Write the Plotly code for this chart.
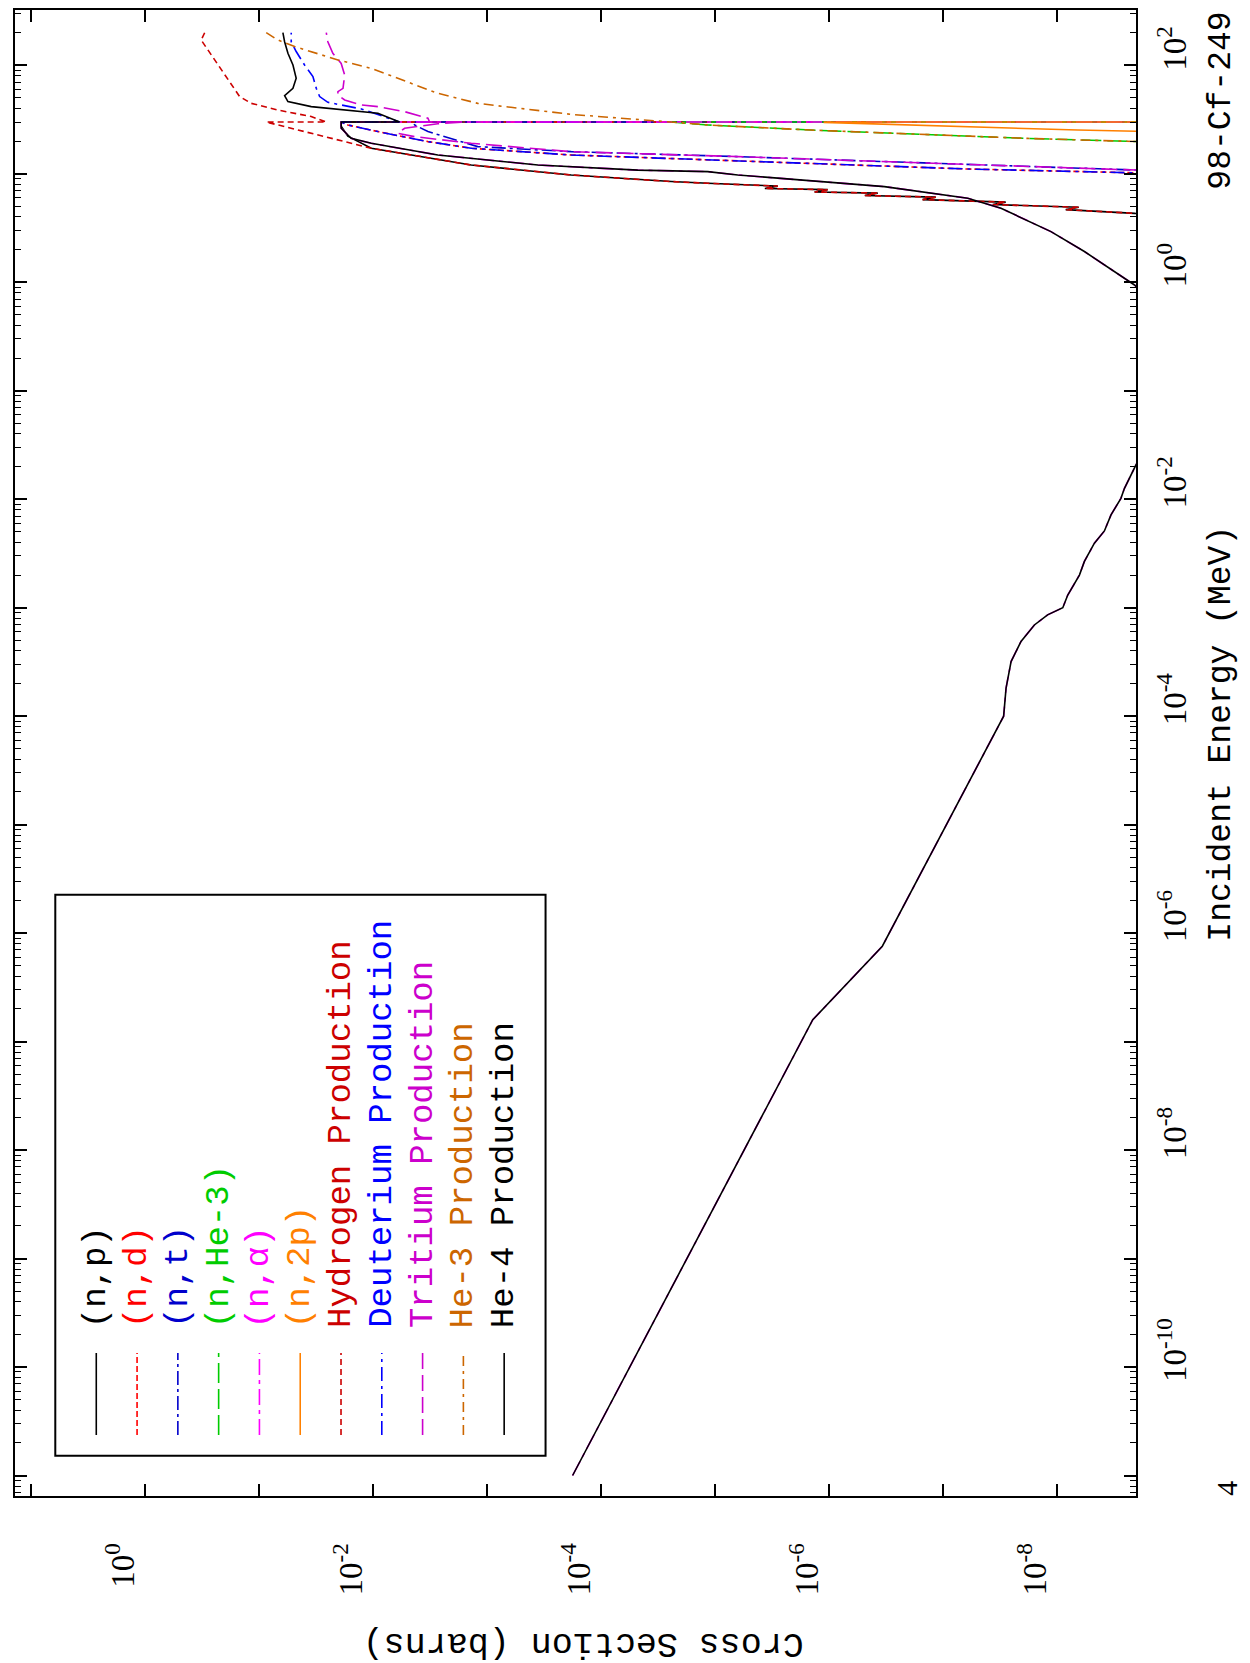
import plotly.graph_objects as go

# ---------------- data (Energy in MeV, cross section in barns) ----------------
np_E = [4.0, 4.32, 4.67, 4.91, 5.21, 5.48, 5.78, 6.09, 6.31, 6.64, 6.80, 7.15, 7.32, 7.70,
        8.17, 8.48, 9.75, 12.05, 17.2, 22.2, 27.4, 30.0, 30.0]
np_xs = [8e-10, 2.08e-9, 8.39e-9, 6.45e-9, 3.66e-8, 2.82e-8, 1.51e-7, 1.16e-7, 4.86e-7, 3.74e-7,
         1.34e-6, 1.03e-6, 3.66e-6, 2.82e-6, 1.16e-5, 2.43e-5, 1.83e-4, 1.38e-3, 1.04e-2,
         1.67e-2, 1.91e-2, 1.91e-2, 1e-30]

nd_E = [9.5, 10.21, 11.07, 13.4, 14.9, 17.2, 19.8, 24.5, 28.2, 30.0, 30.0]
nd_xs = [5e-10, 2.08e-9, 6.07e-8, 1.16e-5, 1.83e-4, 1.38e-3, 3.31e-3, 9.10e-3, 1.67e-2, 1.91e-2, 1e-30]

nt_E = [10.3, 10.84, 12.1, 14.4, 16.0, 17.8, 24.5, 28.2, 30.0, 30.0]
nt_xs = [5e-10, 2.08e-9, 6.07e-8, 6.32e-6, 1.83e-4, 1.21e-3, 3.31e-3, 4.33e-3, 4.48e-3, 1e-30]

nhe3_E = [19.0, 19.8, 20.5, 21.2, 25.3, 28.2, 30.0, 30.0]
nhe3_xs = [5e-10, 2.08e-9, 6.58e-9, 1.81e-8, 1.45e-6, 1.16e-5, 2.43e-5, 1e-30]

na_E = [1e-11, 1.59e-7, 7.57e-7, 1e-4, 1.81e-4, 3.19e-4, 4.88e-4, 6.93e-4, 8.59e-4, 1.0e-3,
        1.31e-3, 2.0e-3, 2.67e-3, 3.93e-3, 5.10e-3, 7.17e-3, 1.02e-2, 1.26e-2, 2.07e-2, 0.05,
        0.2, 0.6, 0.944, 1.44, 1.92, 2.93, 4.81, 5.95, 7.62, 9.75, 10.48, 10.8, 12.05, 14.9,
        19.1, 21.2, 26.3, 30.0, 30.0]
na_xs = [1.78e-4, 1.39e-6, 3.41e-7, 2.94e-8, 2.80e-8, 2.53e-8, 2.07e-8, 1.58e-8, 1.21e-8, 8.9e-9,
         8.05e-9, 6.36e-9, 5.75e-9, 4.70e-9, 3.84e-9, 3.36e-9, 2.75e-9, 2.56e-9, 2.03e-9, 1.3e-9,
         8e-10, 1.3e-9, 2.09e-9, 3.84e-9, 5.75e-9, 1.13e-8, 3.10e-8, 6.07e-8, 3.27e-7, 6.32e-6,
         1.16e-5, 4.77e-5, 3.59e-4, 2.71e-3, 1.04e-2, 1.56e-2, 1.91e-2, 1.91e-2, 1e-30]

n2p_E = [24.0, 24.8, 25.3, 29.8, 30.0, 30.0]
n2p_xs = [5e-10, 2.08e-9, 6.58e-9, 1.10e-6, 1.10e-6, 1e-30]

hprod_E = [4.0, 4.32, 4.67, 4.91, 5.21, 5.48, 5.78, 6.09, 6.31, 6.64, 6.80, 7.15, 7.32, 7.70,
           8.17, 8.48, 9.75, 12.05, 17.2, 19.8, 23.6, 28.6, 30.0, 30.0, 33.7, 38.7, 44.6, 51.5,
           81.4, 124, 171, 200]
hprod_xs = [8e-10, 2.08e-9, 8.39e-9, 6.45e-9, 3.66e-8, 2.82e-8, 1.51e-7, 1.16e-7, 4.86e-7, 3.74e-7,
            1.34e-6, 1.03e-6, 3.66e-6, 2.82e-6, 1.16e-5, 2.43e-5, 1.83e-4, 1.38e-3, 1.04e-2,
            1.78e-2, 3.50e-2, 7.33e-2, 8.68e-2, 2.58e-2, 3.50e-2, 6.85e-2, 0.1175, 0.1485,
            0.201, 0.264, 0.323, 0.301]

dprod_E = [9.5, 10.21, 11.07, 13.4, 14.9, 17.2, 19.8, 24.5, 28.2, 30.0, 30.0, 39.6, 45.6, 51.5,
           61.4, 78.7, 100.6, 134, 165, 200]
dprod_xs = [5e-10, 2.08e-9, 6.07e-8, 1.16e-5, 1.83e-4, 1.38e-3, 3.31e-3, 9.10e-3, 1.67e-2, 1.91e-2,
            5.87e-3, 1.27e-2, 2.50e-2, 2.95e-2, 3.16e-2, 3.38e-2, 4.00e-2, 4.74e-2, 5.24e-2, 5.24e-2]

tprod_E = [10.3, 10.84, 12.1, 14.4, 16.0, 19.1, 22.0, 23.6, 26.3, 28.9, 30.0, 30.0, 32.5, 37.4,
           41.6, 43.1, 47.9, 53.2, 57.2, 61.4, 81.4, 104, 129, 165, 200]
tprod_xs = [5e-10, 2.08e-9, 6.07e-8, 6.32e-6, 1.83e-4, 1.38e-3, 4.33e-3, 6.07e-3, 5.30e-3, 2.71e-3,
            1.58e-3, 3.20e-3, 3.31e-3, 5.30e-3, 9.10e-3, 1.27e-2, 1.78e-2, 2.04e-2, 2.04e-2,
            1.84e-2, 1.78e-2, 1.91e-2, 2.26e-2, 2.50e-2, 2.58e-2]

he3prod_E = [19.0, 19.8, 20.5, 21.2, 25.3, 28.2, 30.0, 32.5, 35.3, 41.0, 44.6, 55.2, 71.2, 93.8,
             112, 134, 149, 171, 200]
he3prod_xs = [5e-10, 2.08e-9, 6.58e-9, 1.81e-8, 1.45e-6, 1.16e-5, 2.43e-5, 6.72e-5, 1.83e-4,
              6.19e-4, 1.21e-3, 2.71e-3, 5.27e-3, 1.04e-2, 2.04e-2, 3.50e-2, 4.89e-2, 6.85e-2, 8.68e-2]

he4prod_E = [1e-11, 1.59e-7, 7.57e-7, 1e-4, 1.81e-4, 3.19e-4, 4.88e-4, 6.93e-4, 8.59e-4, 1.0e-3,
             1.31e-3, 2.0e-3, 2.67e-3, 3.93e-3, 5.10e-3, 7.17e-3, 1.02e-2, 1.26e-2, 2.07e-2, 0.05,
             0.2, 0.6, 0.944, 1.44, 1.92, 2.93, 4.81, 5.95, 7.62, 9.75, 10.48, 10.8, 12.05, 14.9,
             19.1, 21.2, 26.3, 30.0, 30.0, 36.1, 38.7, 41.6, 46.3, 52.6, 61.4, 75.9, 100.6, 129,
             165, 200]
he4prod_xs = [1.78e-4, 1.39e-6, 3.41e-7, 2.94e-8, 2.80e-8, 2.53e-8, 2.07e-8, 1.58e-8, 1.21e-8, 8.9e-9,
              8.05e-9, 6.36e-9, 5.75e-9, 4.70e-9, 3.84e-9, 3.36e-9, 2.75e-9, 2.56e-9, 2.03e-9, 1.3e-9,
              8e-10, 1.3e-9, 2.09e-9, 3.84e-9, 5.75e-9, 1.13e-8, 3.10e-8, 6.07e-8, 3.27e-7, 6.32e-6,
              1.16e-5, 4.77e-5, 3.59e-4, 2.71e-3, 1.04e-2, 1.56e-2, 1.91e-2, 1.91e-2, 5.87e-3,
              9.10e-3, 1.78e-2, 3.50e-2, 5.60e-2, 5.99e-2, 5.06e-2, 4.74e-2, 5.06e-2, 5.60e-2,
              5.99e-2, 6.20e-2]

legend_names = ["(n,p)", "(n,d)", "(n,t)", "(n,He-3)", "(n,\u03b1)", "(n,2p)",
                "Hydrogen Production", "Deuterium Production", "Tritium Production",
                "He-3 Production", "He-4 Production"]

SUP = "10<sup>%d</sup>"
energy_ticks = [10.0 ** k for k in range(-11, 3)]
energy_labels = ["" if (k % 2 or k == -11) else SUP % k for k in range(-11, 3)]
xs_ticks = [10.0 ** k for k in range(1, -9, -1)]
xs_labels = ["" if k % 2 else SUP % k for k in range(1, -9, -1)]

# ---------------- styling ----------------
series = [
    (np_E, np_xs, "#000000", "solid"),
    (nd_E, nd_xs, "#FF0000", "6px,3px"),
    (nt_E, nt_xs, "#0000CC", "14px,4px,3px,4px"),
    (nhe3_E, nhe3_xs, "#00CC00", "20px,6px"),
    (na_E, na_xs, "#FF00FF", "16px,5px,4px,5px"),
    (n2p_E, n2p_xs, "#FF8000", "solid"),
    (hprod_E, hprod_xs, "#CC0000", "6px,4px"),
    (dprod_E, dprod_xs, "#0000FF", "14px,5px,3px,5px"),
    (tprod_E, tprod_xs, "#CC00CC", "16px,6px"),
    (he3prod_E, he3prod_xs, "#CC6600", "10px,5px,3px,5px"),
    (he4prod_E, he4prod_xs, "#000000", "solid"),
]

PX0, PX1, PY0, PY1 = 7.0, 1128.3, 2.0, 1488.0
W, H = 1250, 1663


def px(x):
    return (x - PX0) / (PX1 - PX0)


def py(y):
    return (PY1 - y) / (PY1 - PY0)


fig = go.Figure()
for E, xs, col, dash in series:
    fig.add_trace(go.Scatter(x=xs, y=E, mode="lines", showlegend=False,
                             line=dict(color=col, width=1.6, dash=dash)))

minor_vals = [m * 10.0 ** k for k in range(-12, 3) for m in range(2, 10)]

fig.update_layout(
    width=W, height=H, template="none",
    margin=dict(l=PX0, r=W - PX1, t=PY0, b=H - PY1, pad=0),
    paper_bgcolor="white", plot_bgcolor="white",
    xaxis=dict(type="log", range=[1.143, -8.693], side="bottom", showgrid=False, zeroline=False,
               showline=True, linecolor="black", linewidth=2, mirror="allticks",
               ticks="inside", ticklen=12, tickwidth=1.5, tickcolor="black",
               tickmode="array", tickvals=xs_ticks, ticktext=xs_labels, tickangle=-90,
               ticklabelstandoff=32, ticklabelshift=22,
               tickfont=dict(family="Liberation Serif", size=33, color="black"),
               automargin=False),
    yaxis=dict(type="log", range=[-11.189, 2.510], side="right", showgrid=False, zeroline=False,
               showline=True, linecolor="black", linewidth=2, mirror="allticks",
               ticks="inside", ticklen=12, tickwidth=1.5, tickcolor="black",
               tickmode="array", tickvals=energy_ticks, ticktext=energy_labels, tickangle=-90,
               ticklabelstandoff=8, ticklabelshift=-12,
               tickfont=dict(family="Liberation Serif", size=33, color="black"),
               minor=dict(tickmode="array", tickvals=minor_vals, ticks="inside", ticklen=6,
                          tickwidth=1.2, tickcolor="black", showgrid=False),
               automargin=False),
)

mono = "Liberation Mono"
ann = [
    dict(text="Incident Energy (MeV)", x=px(1214), y=py(726), textangle=-90,
         font=dict(family=mono, size=33, color="black")),
    dict(text="Cross Section (barns)", x=px(575), y=py(1635), textangle=180,
         font=dict(family=mono, size=35, color="black")),
    dict(text="98-Cf-249", x=px(1214), y=py(93), textangle=-90,
         font=dict(family=mono, size=33, color="black")),
    dict(text="4", x=px(1218), y=py(1480), textangle=-90,
         font=dict(family="Liberation Serif", size=30, color="black")),
]
for a in ann:
    a.update(xref="paper", yref="paper", showarrow=False, xanchor="center", yanchor="middle")
    fig.add_annotation(**a)

# manual rotated legend
fig.add_shape(type="rect", xref="paper", yref="paper", x0=px(47.3), x1=px(537.7),
              y0=py(1447.7), y1=py(886.7), line=dict(color="black", width=2),
              fillcolor="white", layer="above")
for i, (name, (E, xs, col, dash)) in enumerate(zip(legend_names, series)):
    lx = 88.3 + 40.8 * i
    fig.add_shape(type="line", xref="paper", yref="paper", x0=px(lx), x1=px(lx),
                  y0=py(1427), y1=py(1345), line=dict(color=col, width=1.6, dash=dash),
                  layer="above")
    fig.add_annotation(text=name, x=px(lx), y=py(1322), xref="paper", yref="paper",
                       showarrow=False, textangle=-90, xanchor="center", yanchor="bottom",
                       font=dict(family=mono, size=34, color=col))

fig.write_html("out.html")
